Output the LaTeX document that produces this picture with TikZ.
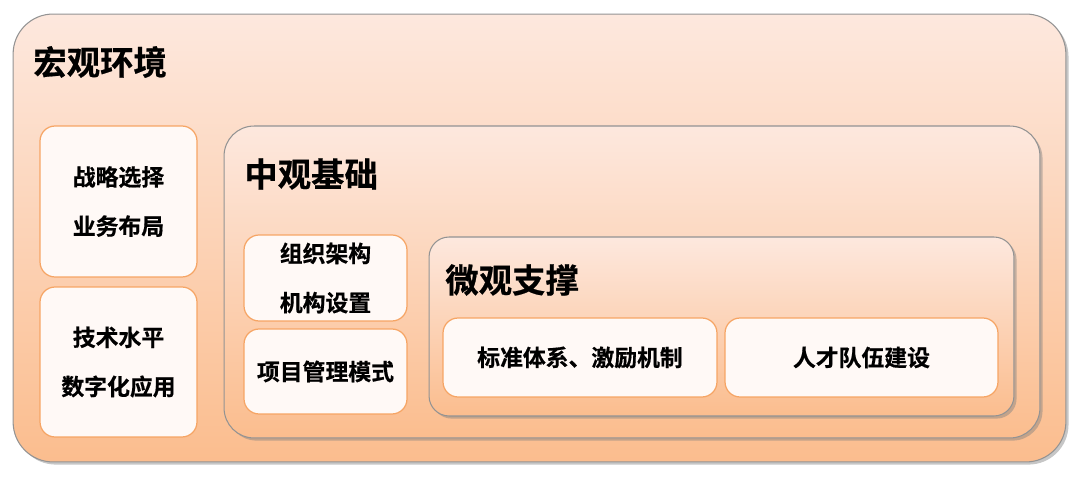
\documentclass[tikz,border=0pt]{standalone}
\usepackage{fontspec}
\newfontfamily\cjk{Noto Sans CJK SC}[BoldFont={Noto Sans CJK SC Bold}, BoldFeatures={FakeBold=0.6}]
\usetikzlibrary{shadows}
\definecolor{peachtop}{HTML}{FDE8DE}
\definecolor{peachbot}{HTML}{FBBD8E}
\definecolor{cardfill}{HTML}{FFF9F6}
\definecolor{cardline}{HTML}{F6A565}
\tikzset{
  frame/.style={draw=gray!85, line width=0.6pt, top color=peachtop, bottom color=peachbot,
    drop shadow={shadow xshift=1.5pt, shadow yshift=-1.5pt, opacity=0.45}},
  card/.style={draw=cardline, line width=0.7pt, fill=cardfill, rounded corners=0.3cm,
    font=\cjk\bfseries\fontsize{13}{28}\selectfont, align=center, inner sep=0pt},
  heading/.style={anchor=west, font=\cjk\bfseries\fontsize{19}{22}\selectfont, inner sep=0pt}
}
\begin{document}
\begin{tikzpicture}[x=0.02cm, y=-0.02cm]
  \useasboundingbox (0,0) rectangle (1080,479);
  % macro level
  \node[frame, rounded corners=0.8cm, minimum width=21.06cm, minimum height=8.96cm] (macro) at (539.5,238) {};
  \node[heading] (macrotitle) at (33,62) {宏观环境};
  \node[card, minimum width=3.14cm, minimum height=3.02cm] (strategy) at (118.5,201.5) {战略选择\\业务布局};
  \node[card, minimum width=3.14cm, minimum height=3.0cm] (tech) at (118.5,362) {技术水平\\数字化应用};
  % meso level
  \node[frame, rounded corners=0.6cm, minimum width=16.32cm, minimum height=6.24cm] (meso) at (632,282) {};
  \node[heading] (mesotitle) at (244,174) {中观基础};
  \node[card, minimum width=3.26cm, minimum height=1.72cm] (org) at (325.5,278) {组织架构\\机构设置};
  \node[card, minimum width=3.26cm, minimum height=1.7cm] (proj) at (325.5,371.5) {项目管理模式};
  % micro level
  \node[frame, rounded corners=0.4cm, minimum width=11.7cm, minimum height=3.58cm] (micro) at (721.5,326.5) {};
  \node[heading] (microtitle) at (445,280) {微观支撑};
  \node[card, minimum width=5.48cm, minimum height=1.58cm] (norms) at (580,357.5) {标准体系、激励机制};
  \node[card, minimum width=5.46cm, minimum height=1.58cm] (talent) at (861.5,357.5) {人才队伍建设};
\end{tikzpicture}
\end{document}
